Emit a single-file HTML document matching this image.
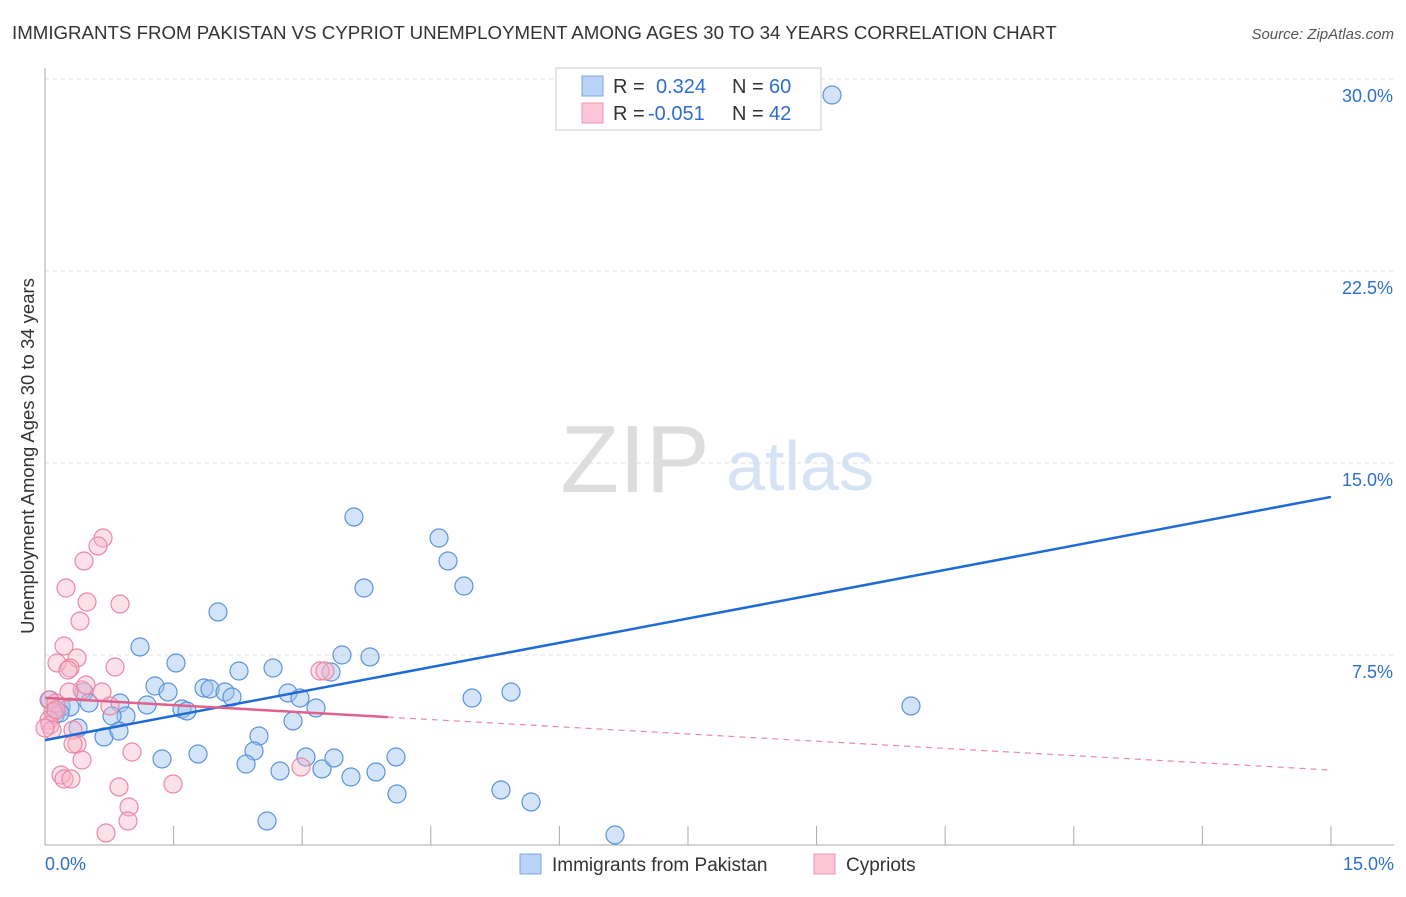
<!DOCTYPE html>
<html><head><meta charset="utf-8"><style>
body{margin:0;background:#fff;font-family:"Liberation Sans",sans-serif;}
svg text{font-family:"Liberation Sans",sans-serif;}
</style></head><body>
<svg id="c" width="1406" height="892" xmlns="http://www.w3.org/2000/svg">
<text x="12" y="39" font-size="18.7" fill="#333">IMMIGRANTS FROM PAKISTAN VS CYPRIOT UNEMPLOYMENT AMONG AGES 30 TO 34 YEARS CORRELATION CHART</text>
<text x="1394" y="39" font-size="15" fill="#555" font-style="italic" text-anchor="end">Source: ZipAtlas.com</text>
<text x="34" y="456" font-size="18.5" fill="#333" text-anchor="middle" transform="rotate(-90 34 456)">Unemployment Among Ages 30 to 34 years</text>
<text x="635" y="492" font-size="96" fill="#ddd" font-family="Liberation Serif" text-anchor="middle">ZIP</text>
<text x="800" y="490" font-size="70" fill="#d5e3f5" text-anchor="middle">atlas</text>
<g id="grid"></g><g id="axes"></g><g id="pts"></g><g id="lines"></g>
<g>
<rect x="556" y="68" width="265" height="62" fill="#fff" stroke="#ccc"/>
<rect x="582" y="76" width="21" height="20" fill="#b8d3f5" stroke="#7aa6e6"/>
<rect x="582" y="103" width="21" height="20" fill="#fbc5d5" stroke="#ef95b1"/>
<text x="613" y="93" font-size="20" fill="#333">R = </text><text x="656" y="93" font-size="20" fill="#2d6fd1">0.324</text>
<text x="732" y="93" font-size="20" fill="#333">N = </text><text x="769" y="93" font-size="20" fill="#2d6fd1">60</text>
<text x="613" y="120" font-size="20" fill="#333">R = </text><text x="648" y="120" font-size="20" fill="#2d6fd1">-0.051</text>
<text x="732" y="120" font-size="20" fill="#333">N = </text><text x="769" y="120" font-size="20" fill="#2d6fd1">42</text>
</g>
<g>
<rect x="520" y="854" width="21" height="20" fill="#b8d3f5" stroke="#7aa6e6"/>
<text x="552" y="871" font-size="19" fill="#333">Immigrants from Pakistan</text>
<rect x="814" y="854" width="21" height="20" fill="#fbc5d5" stroke="#ef95b1"/>
<text x="846" y="871" font-size="19" fill="#333">Cypriots</text>
</g>
</svg>
<script>
const yTicks=[7.5,15,22.5,30];
const yTickLabels=["7.5%","15.0%","22.5%","30.0%"];
const xTickCount=10;
const bluePx=[[832,95],[354,517],[439,538],[448,561],[464,586],[364,588],[218,612],[140,647],[176,663],[342,655],[370,657],[239,671],[273,668],[331,672],[155,686],[168,692],[204,688],[210,689],[225,692],[232,697],[288,693],[300,698],[316,708],[293,721],[472,698],[511,692],[911,706],[84,692],[89,703],[120,703],[147,705],[182,709],[187,711],[126,716],[112,716],[61,707],[70,707],[50,700],[55,715],[60,713],[78,728],[104,737],[119,731],[259,736],[254,751],[246,764],[280,771],[306,757],[322,769],[334,758],[351,777],[376,772],[396,757],[397,794],[501,790],[531,802],[615,835],[267,821],[198,754],[162,759]];
const pinkPx=[[103,538],[98,546],[84,561],[66,588],[87,602],[120,604],[80,621],[64,646],[77,658],[57,663],[70,668],[68,670],[115,667],[82,690],[69,692],[102,692],[86,685],[110,706],[49,700],[56,703],[53,712],[49,720],[50,725],[52,730],[45,728],[73,730],[77,744],[73,744],[82,760],[132,752],[61,775],[64,779],[71,779],[119,787],[173,784],[301,767],[320,671],[325,671],[129,807],[128,821],[106,833],[56,710]];
const blueX=bluePx.map(p=>+((p[0]-45)/85.73).toFixed(3)), blueY=bluePx.map(p=>+((863-p[1])/25.6).toFixed(3));
const pinkX=pinkPx.map(p=>+((p[0]-45)/85.73).toFixed(3)), pinkY=pinkPx.map(p=>+((863-p[1])/25.6).toFixed(3));
const blueTrend=[4.8,14.3], pinkTrend=[6.45,3.63];
const X=v=>45+v*85.73, Y=v=>863-v*25.6;
const NS="http://www.w3.org/2000/svg";
function mk(t,a,p){const e=document.createElementNS(NS,t);for(const k in a)e.setAttribute(k,a[k]);p.appendChild(e);return e;}
const grid=document.getElementById('grid'),axes=document.getElementById('axes'),pts=document.getElementById('pts'),lines=document.getElementById('lines');
yTicks.forEach((t,i)=>{
 const l=mk('line',{x1:45,x2:1394,y1:Y(t)-16,y2:Y(t)-16,stroke:'#ddd','stroke-dasharray':'4,4'},grid);
 
 
 const tx=mk('text',{x:1393,y:Y(t)+7,'font-size':18,fill:'#2d6fd1','text-anchor':'end'},axes);tx.textContent=yTickLabels[i];
 
 
});
const ax=mk('line',{x1:45,x2:1394,y1:845,y2:845,stroke:'#aaa'},axes);


const ay=mk('line',{x1:45,x2:45,y1:68,y2:845,stroke:'#aaa'},axes);


for(let i=1;i<=xTickCount;i++){const x=X(i*1.5);mk('line',{x1:x,x2:x,y1:826,y2:845,stroke:'#aaa'},axes);}
let t1=mk('text',{x:45,y:870,'font-size':18,fill:'#2d6fd1'},axes);t1.textContent='0.0%';


let t2=mk('text',{x:1394,y:870,'font-size':18,fill:'#2d6fd1','text-anchor':'end'},axes);t2.textContent='15.0%';


blueX.forEach((x,i)=>{const c=mk('circle',{cx:X(x),cy:Y(blueY[i]),r:9,fill:'rgba(160,196,240,0.45)',stroke:'#5b93dc','stroke-width':1.2},pts);
 
 });
pinkX.forEach((x,i)=>{const c=mk('circle',{cx:X(x),cy:Y(pinkY[i]),r:9,fill:'rgba(248,180,200,0.4)',stroke:'#ec86a6','stroke-width':1.2},pts);
 
 });
const bl=mk('line',{x1:X(0),y1:Y(blueTrend[0]),x2:X(15),y2:Y(blueTrend[1]),stroke:'#1f6bd6','stroke-width':2.5},lines);


const py=v=>pinkTrend[0]+(pinkTrend[1]-pinkTrend[0])*v/15;
const pl=mk('line',{x1:X(0),y1:Y(py(0)),x2:X(4),y2:Y(py(4)),stroke:'#e0628b','stroke-width':2.5},lines);


const pd=mk('line',{x1:X(4),y1:Y(py(4)),x2:X(15),y2:Y(py(15)),stroke:'#e88aa8','stroke-width':1.2,'stroke-dasharray':'6,5'},lines);


</script>
</body></html>
